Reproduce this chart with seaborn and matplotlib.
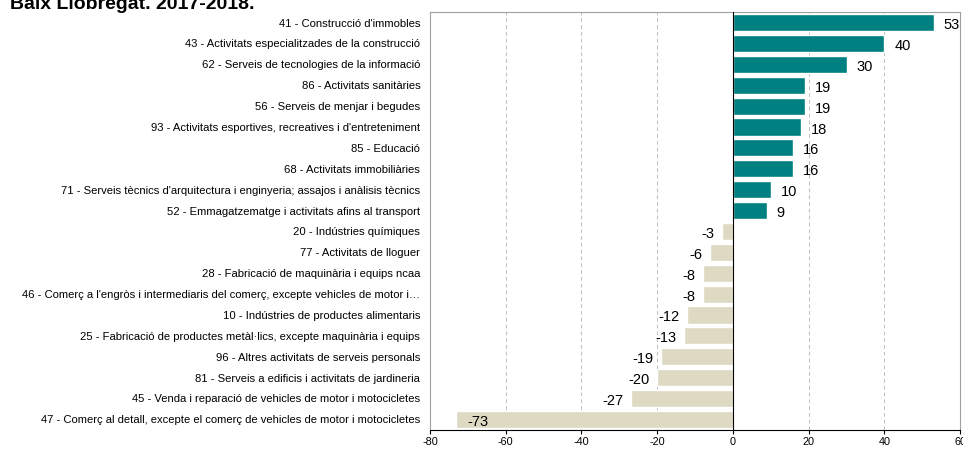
import pandas as pd
import matplotlib.pyplot as plt
import seaborn as sns

# data
sectors = [
    "41 - Construcció d'immobles",
    "43 - Activitats especialitzades de la construcció",
    "62 - Serveis de tecnologies de la informació",
    "86 - Activitats sanitàries",
    "56 - Serveis de menjar i begudes",
    "93 - Activitats esportives, recreatives i d'entreteniment",
    "85 - Educació",
    "68 - Activitats immobiliàries",
    "71 - Serveis tècnics d'arquitectura i enginyeria; assajos i anàlisis tècnics",
    "52 - Emmagatzematge i activitats afins al transport",
    "20 - Indústries químiques",
    "77 - Activitats de lloguer",
    "28 - Fabricació de maquinària i equips ncaa",
    "46 - Comerç a l'engròs i intermediaris del comerç, excepte vehicles de motor i…",
    "10 - Indústries de productes alimentaris",
    "25 - Fabricació de productes metàl·lics, excepte maquinària i equips",
    "96 - Altres activitats de serveis personals",
    "81 - Serveis a edificis i activitats de jardineria",
    "45 - Venda i reparació de vehicles de motor i motocicletes",
    "47 - Comerç al detall, excepte el comerç de vehicles de motor i motocicletes",
]
values = [53, 40, 30, 19, 19, 18, 16, 16, 10, 9,
          -3, -6, -8, -8, -12, -13, -19, -20, -27, -73]

df = pd.DataFrame({"Sector": sectors, "Valor": values})
df["Signe"] = ["pos" if v > 0 else "neg" for v in values]

sns.set_style("white")
plt.rcParams["font.family"] = ["Liberation Sans", "DejaVu Sans"]
plt.rcParams["axes.unicode_minus"] = False
plt.rcParams["text.color"] = "black"
plt.rcParams["xtick.color"] = "black"
plt.rcParams["ytick.color"] = "black"

fig = plt.figure(figsize=(9.63, 4.51), dpi=100)
ax = fig.add_axes([0.4465, 0.047, 0.5505, 0.926])

sns.barplot(data=df, x="Valor", y="Sector", hue="Signe", orient="h",
            palette={"pos": "#008080", "neg": "#DDD9C3"}, dodge=False,
            saturation=1, width=0.82, legend=False, ax=ax, zorder=3)

ax.set_xlim(-80, 60)
ax.set_xticks(range(-80, 61, 20))
ax.set_xlabel("")
ax.set_ylabel("")
ax.tick_params(axis="x", labelsize=7.8, direction="out", length=3, color="black", bottom=True, pad=2)
ax.tick_params(axis="y", labelsize=8.1, length=0, pad=7)

for x in [-60, -40, -20, 20, 40]:
    ax.axvline(x, color="#BFBFBF", lw=0.7, ls=(0, (4, 3)), zorder=1)
ax.axvline(0, color="black", lw=0.8, zorder=4)

for s in ["left", "top", "right"]:
    ax.spines[s].set_color("#A0A0A0")
    ax.spines[s].set_linewidth(0.8)
ax.spines["bottom"].set_color("black")
ax.spines["bottom"].set_linewidth(0.8)

# value labels
for i, v in enumerate(values):
    if v > 0:
        ax.text(v + 2.6, i + 0.12, f"{v}", ha="left", va="center", fontsize=10.5)
    elif v - 8 < -80:
        ax.text(v + 2.8, i + 0.12, f"{v}", ha="left", va="center", fontsize=10.5)
    else:
        ax.text(v - 2, i + 0.12, f"{v}", ha="right", va="center", fontsize=10.5)

fig.text(0.010, 1 - 9 / 451, "Baix Llobregat. 2017-2018.", fontsize=14,
         fontweight="bold", va="baseline", ha="left")

fig.savefig("out.png", dpi=100)
